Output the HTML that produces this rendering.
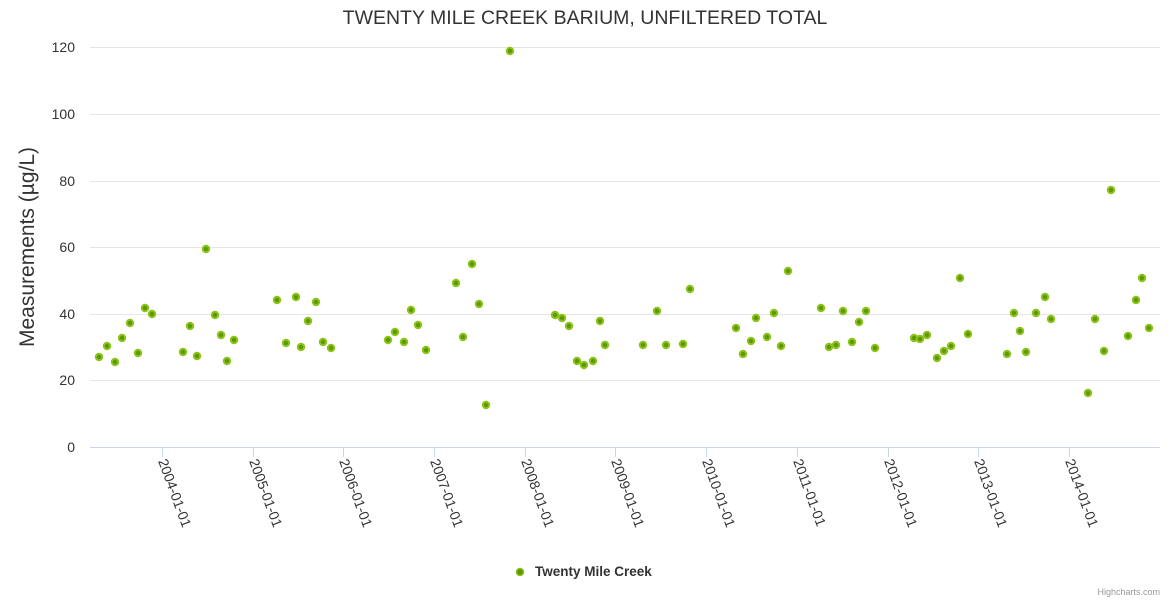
<!DOCTYPE html>
<html><head><meta charset="utf-8"><style>
html,body{margin:0;padding:0;background:#fff;}
svg{display:block;font-family:"Liberation Sans",sans-serif;}
</style></head><body>
<svg width="1170" height="600" viewBox="0 0 1170 600">
<text x="585" y="24" text-anchor="middle" font-size="19.5" fill="#333">TWENTY MILE CREEK BARIUM, UNFILTERED TOTAL</text>
<g stroke="#e6e6e6" stroke-width="1">
<line x1="90" x2="1160" y1="47.5" y2="47.5"/>
<line x1="90" x2="1160" y1="114.5" y2="114.5"/>
<line x1="90" x2="1160" y1="181.5" y2="181.5"/>
<line x1="90" x2="1160" y1="247.5" y2="247.5"/>
<line x1="90" x2="1160" y1="314.5" y2="314.5"/>
<line x1="90" x2="1160" y1="380.5" y2="380.5"/>
</g>
<line x1="90" x2="1160" y1="447.5" y2="447.5" stroke="#ccd6eb"/>
<g stroke="#ccd6eb">
<line x1="162.5" x2="162.5" y1="447" y2="457"/>
<line x1="253.5" x2="253.5" y1="447" y2="457"/>
<line x1="343.5" x2="343.5" y1="447" y2="457"/>
<line x1="434.5" x2="434.5" y1="447" y2="457"/>
<line x1="525.5" x2="525.5" y1="447" y2="457"/>
<line x1="615.5" x2="615.5" y1="447" y2="457"/>
<line x1="706.5" x2="706.5" y1="447" y2="457"/>
<line x1="797.5" x2="797.5" y1="447" y2="457"/>
<line x1="888.5" x2="888.5" y1="447" y2="457"/>
<line x1="978.5" x2="978.5" y1="447" y2="457"/>
<line x1="1069.5" x2="1069.5" y1="447" y2="457"/>
</g>
<g font-size="14" fill="#333" text-anchor="end">
<text x="75" y="52">120</text>
<text x="75" y="119">100</text>
<text x="75" y="186">80</text>
<text x="75" y="252">60</text>
<text x="75" y="319">40</text>
<text x="75" y="385">20</text>
<text x="75" y="452">0</text>
</g>
<text transform="translate(34,247) rotate(-90)" text-anchor="middle" font-size="21" fill="#333">Measurements (µg/L)</text>
<g font-size="14" fill="#333">
<text transform="translate(158,461) rotate(70)">2004-01-01</text>
<text transform="translate(249,461) rotate(70)">2005-01-01</text>
<text transform="translate(339,461) rotate(70)">2006-01-01</text>
<text transform="translate(430,461) rotate(70)">2007-01-01</text>
<text transform="translate(521,461) rotate(70)">2008-01-01</text>
<text transform="translate(611,461) rotate(70)">2009-01-01</text>
<text transform="translate(702,461) rotate(70)">2010-01-01</text>
<text transform="translate(793,461) rotate(70)">2011-01-01</text>
<text transform="translate(884,461) rotate(70)">2012-01-01</text>
<text transform="translate(974,461) rotate(70)">2013-01-01</text>
<text transform="translate(1065,461) rotate(70)">2014-01-01</text>
</g>
<g id="pts" fill="#5a9a00" stroke="#8cc21a" stroke-width="2"></g>
<circle cx="520" cy="572" r="3.5" fill="#5a9a00" stroke="#8cc21a" stroke-width="1.5"/>
<text x="535" y="576" font-size="13.5" font-weight="bold" fill="#333">Twenty Mile Creek</text>
<text x="1160" y="595" font-size="9" fill="#999" text-anchor="end">Highcharts.com</text>
</svg>
<script>
var p=[[99,357],[107,346],[115,362],[122,338],[130,323],[138,353],[145,308],[152,314],[183,352],[190,326],[197,356],[206,249],[215,315],[221,335],[227,361],[234,340],[277,300],[286,343],[296,297],[301,347],[308,321],[316,302],[323,342],[331,348],[388,340],[395,332],[404,342],[411,310],[418,325],[426,350],[456,283],[463,337],[472,264],[479,304],[486,405],[510,51],[555,315],[562,318],[569,326],[577,361],[584,365],[593,361],[600,321],[605,345],[643,345],[657,311],[666,345],[683,344],[690,289],[736,328],[743,354],[751,341],[756,318],[767,337],[774,313],[781,346],[788,271],[821,308],[829,347],[836,345],[843,311],[852,342],[859,322],[866,311],[875,348],[914,338],[920,339],[927,335],[937,358],[944,351],[951,346],[960,278],[968,334],[1007,354],[1014,313],[1020,331],[1026,352],[1036,313],[1045,297],[1051,319],[1088,393],[1095,319],[1104,351],[1111,190],[1128,336],[1136,300],[1142,278],[1149,328]];
var g=document.getElementById('pts'),s='';
p.forEach(function(q){s+='<circle cx="'+q[0]+'" cy="'+q[1]+'" r="3.2"/>';});
g.innerHTML=s;
</script>
</body></html>
